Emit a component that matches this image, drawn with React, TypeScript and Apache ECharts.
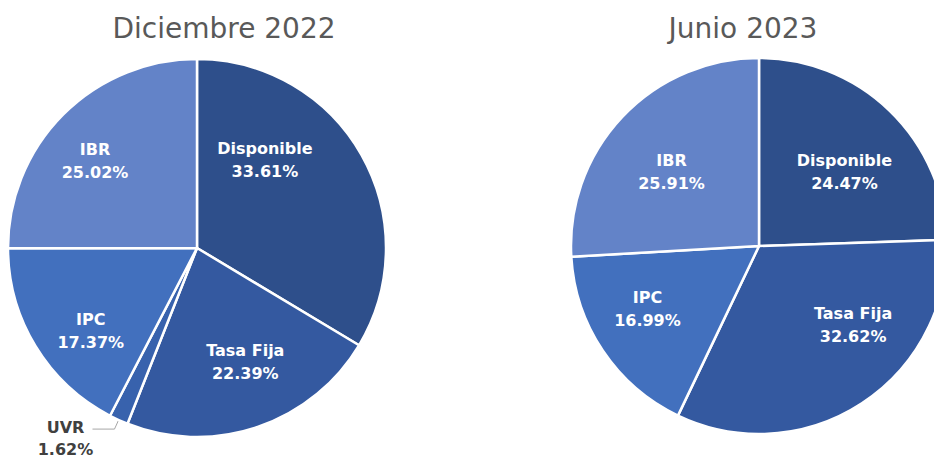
import React, { useEffect, useRef } from "react";
import * as echarts from "echarts";

const categoriesDec = ["Disponible", "Tasa Fija", "UVR", "IPC", "IBR"];
const valuesDec = [33.61, 22.39, 1.62, 17.37, 25.02];

const categoriesJun = ["Disponible", "Tasa Fija", "IPC", "IBR"];
const valuesJun = [24.47, 32.62, 16.99, 25.91];

const titles = ["Diciembre 2022", "Junio 2023"];

const colorMap: Record<string, string> = {
  Disponible: "#2E4F8B",
  "Tasa Fija": "#3459A0",
  UVR: "#3862AD",
  IPC: "#4270BE",
  IBR: "#6383C8",
};

// label nudges (dx, dy) relative to ECharts' default label position
const labelOffsetsDec: [number, number][] = [
  [-17, -40],
  [17, 22],
  [-22, 9],
  [-23, 32],
  [-33, -18],
];
const labelOffsetsJun: [number, number][] = [
  [18, -4],
  [41, -2],
  [-31, 9],
  [-17, -7],
];

const FONT = "DejaVu Sans";

export default function App() {
  const ref = useRef<HTMLDivElement>(null);
  useEffect(() => {
    if (!ref.current) return;
    const chart = echarts.init(ref.current, null, { renderer: "svg" });

    const makeData = (cats: string[], vals: number[]) =>
      cats.map((c, i) => {
        const item: any = {
          name: c,
          value: vals[i],
          itemStyle: { color: colorMap[c] },
        };
        if (c === "UVR") {
          item.label = {
            position: "outside",
            color: "#404040",
            lineHeight: 22,
          };
          item.labelLine = {
            show: true,
            length: 10,
            length2: 22,
            lineStyle: { color: "#A6A6A6", width: 1 },
          };
        }
        return item;
      });

    const baseSeries = {
      type: "pie",
      startAngle: 90,
      clockwise: true,
      avoidLabelOverlap: false,
      itemStyle: { borderColor: "#FFFFFF", borderWidth: 2.5 },
      label: {
        show: true,
        position: "inside",
        formatter: (p: any) => `${p.name}\n${p.value.toFixed(2)}%`,
        color: "#FFFFFF",
        fontFamily: FONT,
        fontWeight: "bold",
        fontSize: 16,
        lineHeight: 23,
      },
      labelLine: { show: false },
      emphasis: { disabled: true },
    };

    const layoutFor = (cats: string[], offs: [number, number][]) => (p: any) => {
      const o = offs[p.dataIndex];
      const res: any = { dx: o[0], dy: o[1] };
      if (cats[p.dataIndex] === "UVR") res.align = "center";
      return res;
    };

    chart.setOption({
      animation: false,
      backgroundColor: "#FFFFFF",
      title: [
        {
          text: titles[0],
          left: 224,
          top: 14,
          textAlign: "center",
          padding: 0,
          textStyle: { fontFamily: FONT, fontWeight: "normal", fontSize: 28, color: "#595959" },
        },
        {
          text: titles[1],
          left: 743,
          top: 14,
          textAlign: "center",
          padding: 0,
          textStyle: { fontFamily: FONT, fontWeight: "normal", fontSize: 28, color: "#595959" },
        },
      ],
      series: [
        {
          ...baseSeries,
          center: [197, 248],
          radius: [0, 189],
          data: makeData(categoriesDec, valuesDec),
          labelLayout: layoutFor(categoriesDec, labelOffsetsDec),
        },
        {
          ...baseSeries,
          center: [759, 246],
          radius: [0, 188],
          data: makeData(categoriesJun, valuesJun),
          labelLayout: layoutFor(categoriesJun, labelOffsetsJun),
        },
      ],
    });
    return () => chart.dispose();
  }, []);
  return (
    <div
      ref={ref}
      style={{ position: "fixed", left: 0, top: 0, width: 934, height: 459 }}
    />
  );
}
